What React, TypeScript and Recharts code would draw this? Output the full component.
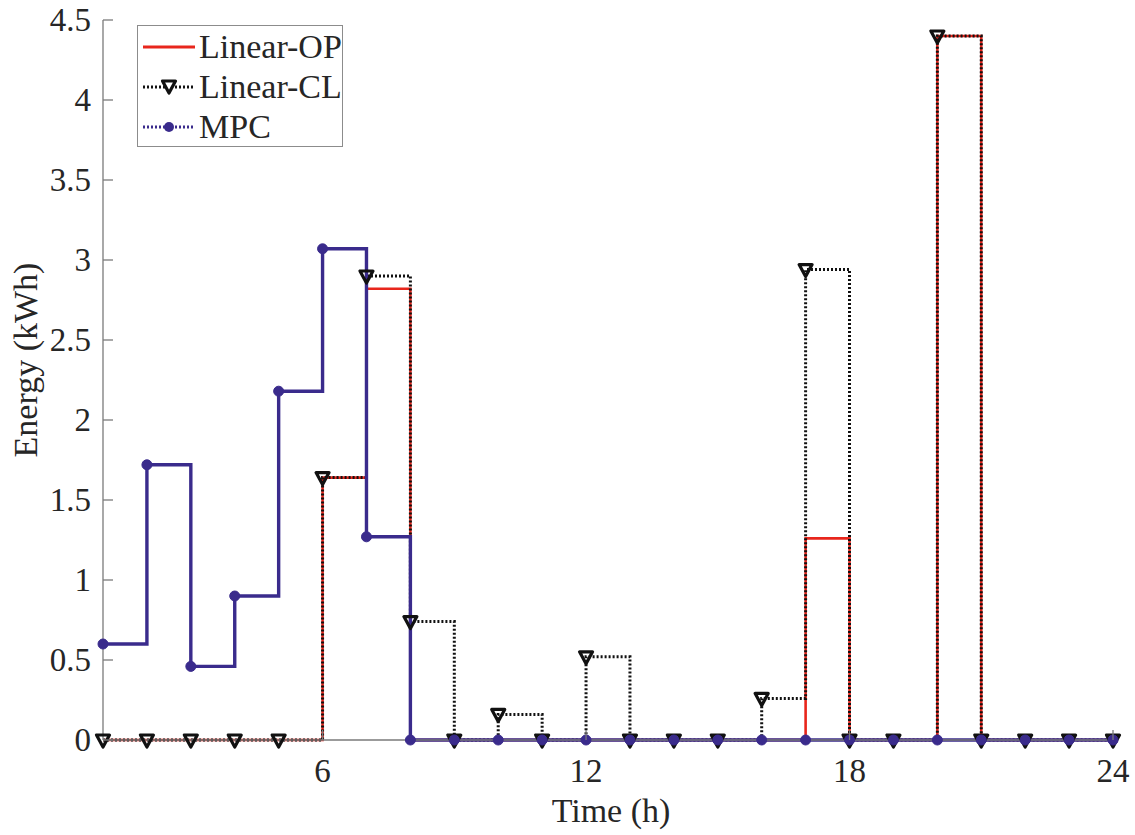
import React from "react";
import { LineChart, Line, XAxis, YAxis } from "recharts";

// hourly energy, one value per hour (stairs drawn step-after)
const hours = [1, 2, 3, 4, 5, 6, 7, 8, 9, 10, 11, 12, 13, 14, 15, 16, 17, 18, 19, 20, 21, 22, 23, 24];
const linearOP = [0, 0, 0, 0, 0, 1.64, 2.82, 0, 0, 0, 0, 0, 0, 0, 0, 0, 1.26, 0, 0, 4.4, 0, 0, 0, 0];
const linearCL = [0, 0, 0, 0, 0, 1.64, 2.9, 0.74, 0, 0.16, 0, 0.52, 0, 0, 0, 0.26, 2.94, 0, 0, 4.4, 0, 0, 0, 0];
const mpc = [0.6, 1.72, 0.46, 0.9, 2.18, 3.07, 1.27, 0, 0, 0, 0, 0, 0, 0, 0, 0, 0, 0, 0, 0, 0, 0, 0, 0];

const xTicks = [6, 12, 18, 24];
const yTicks = [0, 0.5, 1, 1.5, 2, 2.5, 3, 3.5, 4, 4.5];

const RED = "#e8261c";
const BLACK = "#111111";
const NAVY = "#3a2b8c";
const AXIS = "#7a7a7a";
const INK = "#262626";
const FONT = "'Liberation Serif', 'Times New Roman', serif";
const TICK_GAP = 12;

const data = hours.map((t, i) => ({ t, op: linearOP[i], cl: linearCL[i], mpc: mpc[i] }));

const triPath = (cx: number, cy: number) =>
  `M${cx - 6.5},${cy - 5} L${cx + 6.5},${cy - 5} L${cx},${cy + 7} Z`;

const TriangleDot = (p: any) => (
  <path key={`tri-${p.index}`} d={triPath(p.cx, p.cy)} fill="none" stroke={BLACK} strokeWidth={3.2} strokeLinejoin="round" />
);

const CircleDot = (p: any) => (
  <circle key={`dot-${p.index}`} cx={p.cx} cy={p.cy} r={5} fill={NAVY} stroke={NAVY} />
);

const textStyle = { fontFamily: FONT, fontSize: 33, fill: INK };

const YTick = (props: any) => {
  const { x, y, payload } = props;
  const ax = x + TICK_GAP;
  return (
    <g>
      <line x1={ax} x2={ax + 10} y1={y} y2={y} stroke={AXIS} strokeWidth={1.3} />
      <text x={x} y={y} dy={11} textAnchor="end" style={textStyle}>
        {payload.value}
      </text>
    </g>
  );
};

const XTick = (props: any) => {
  const { x, y, payload } = props;
  const ay = y - TICK_GAP;
  return (
    <g>
      <line x1={x} x2={x} y1={ay} y2={ay - 10} stroke={AXIS} strokeWidth={1.3} />
      <text x={x} y={ay + 42} textAnchor="middle" style={textStyle}>
        {payload.value}
      </text>
    </g>
  );
};

const legendRows = [
  { name: "Linear-OP", color: RED, dash: undefined, marker: "none" },
  { name: "Linear-CL", color: BLACK, dash: "2 2", marker: "tri" },
  { name: "MPC", color: NAVY, dash: "2 2", marker: "dot" },
];

const LegendBox = () => (
  <div
    style={{
      position: "absolute",
      left: 137,
      top: 25,
      width: 206,
      height: 122,
      border: "1.5px solid #8c8c8c",
      background: "#fff",
      boxSizing: "border-box",
      paddingTop: 1,
    }}
  >
    {legendRows.map((r) => (
      <div key={r.name} style={{ display: "flex", alignItems: "center", height: 40 }}>
        <svg width={58} height={20} style={{ marginLeft: 3 }}>
          <line x1={2} x2={54} y1={10} y2={10} stroke={r.color} strokeWidth={3} strokeDasharray={r.dash} />
          {r.marker === "tri" && (
            <path d={triPath(28, 9)} fill="#fff" stroke={BLACK} strokeWidth={3.2} strokeLinejoin="round" />
          )}
          {r.marker === "dot" && <circle cx={28} cy={10} r={5} fill={NAVY} />}
        </svg>
        <span style={{ fontFamily: FONT, fontSize: 34, color: INK, lineHeight: "40px" }}>{r.name}</span>
      </div>
    ))}
  </div>
);

export default function App() {
  return (
    <div style={{ position: "absolute", left: 0, top: 0, width: 1135, height: 835, background: "#fff" }}>
      <LineChart width={1135} height={835} data={data} margin={{ top: 20, right: 22, bottom: 0, left: 0 }}>
        <XAxis
          dataKey="t"
          type="number"
          domain={[1, 24]}
          ticks={xTicks}
          interval={0}
          height={95}
          tickSize={0}
          tickMargin={TICK_GAP}
          tick={<XTick />}
          axisLine={{ stroke: AXIS, strokeWidth: 1.3 }}
          label={{
            content: () => (
              <text x={611} y={822} textAnchor="middle" style={{ ...textStyle, fontSize: 34 }}>
                Time (h)
              </text>
            ),
          }}
        />
        <YAxis
          type="number"
          domain={[0, 4.5]}
          ticks={yTicks}
          interval={0}
          width={103}
          tickSize={0}
          tickMargin={TICK_GAP}
          tick={<YTick />}
          axisLine={{ stroke: AXIS, strokeWidth: 1.3 }}
          label={{
            content: () => (
              <text
                x={37}
                y={360}
                transform="rotate(-90 37 360)"
                textAnchor="middle"
                style={{ ...textStyle, fontSize: 34 }}
              >
                Energy (kWh)
              </text>
            ),
          }}
        />
        <Line
          type="stepAfter"
          dataKey="op"
          name="Linear-OP"
          stroke={RED}
          strokeWidth={2.6}
          dot={false}
          activeDot={false}
          isAnimationActive={false}
        />
        <Line
          type="stepAfter"
          dataKey="cl"
          name="Linear-CL"
          stroke={BLACK}
          strokeWidth={3}
          strokeDasharray="2 2"
          dot={TriangleDot}
          activeDot={false}
          isAnimationActive={false}
        />
        <Line
          type="stepAfter"
          dataKey="mpc"
          name="MPC"
          stroke={NAVY}
          strokeWidth={3.4}
          dot={CircleDot}
          activeDot={false}
          isAnimationActive={false}
        />
      </LineChart>
      <LegendBox />
    </div>
  );
}
